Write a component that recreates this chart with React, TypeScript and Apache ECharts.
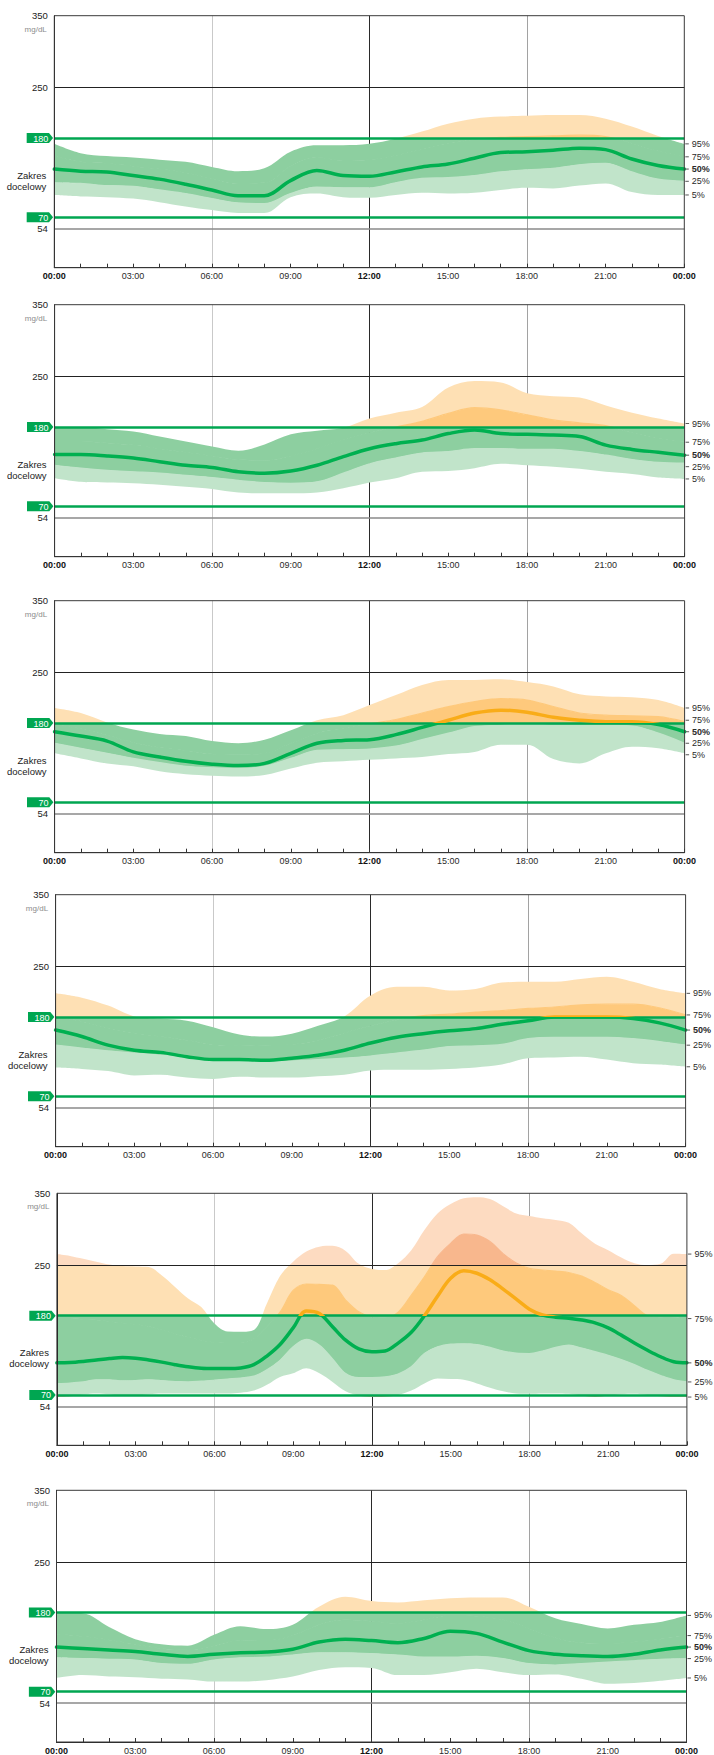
import React, { useEffect, useRef } from "react";
import * as echarts from "echarts";

// ---------- time bases ----------
const HOURS = [0, 1, 2, 3, 4, 5, 6, 7, 8, 9, 10, 11, 12, 13, 14, 15, 16, 17, 18, 19, 20, 21, 22, 23, 24];
const HALF_HOURS = [0, 0.5, 1, 1.5, 2, 2.5, 3, 3.5, 4, 4.5, 5, 5.5, 6, 6.5, 7, 7.5, 8, 8.5, 9, 9.5, 10, 10.5, 11, 11.5, 12, 12.5, 13, 13.5, 14, 14.5, 15, 15.5, 16, 16.5, 17, 17.5, 18, 18.5, 19, 19.5, 20, 20.5, 21, 21.5, 22, 22.5, 23, 23.5, 24];

// ---------- tick labels ----------
const X_LABEL_HOURS = [0, 3, 6, 9, 12, 15, 18, 21, 24];
const X_LABELS = ["00:00", "03:00", "06:00", "09:00", "12:00", "15:00", "18:00", "21:00", "00:00"];
const BOLD_HOURS = [0, 12, 24];
const Y_LABEL_VALUES = [54, 250, 350];
const Y_UNIT = "mg/dL";
const TARGET_LINES = [180, 70];
const TARGET_LABEL = "Zakres\ndocelowy";
const PERCENT_LABELS = ["95%", "75%", "50%", "25%", "5%"];
const V_LINES = [6, 12, 18];

// ---------- panel 1 ----------
const P1_P95 = [172, 159, 155, 153, 150, 147, 140, 134, 138, 161, 170, 170, 172, 179, 189, 200, 207, 210, 211, 212, 212, 207, 196, 183, 172];
const P1_P75 = [155, 147, 145, 141, 137, 132, 124, 117, 118, 141, 153, 149, 150, 156, 164, 172, 178, 181, 182, 183, 184, 182, 173, 162, 154];
const P1_P50 = [137, 134, 133, 128, 123, 116, 108, 100, 100, 121, 135, 128, 127, 133, 140, 144, 152, 160, 161, 163, 166, 164, 151, 142, 137];
const P1_P25 = [118, 117, 114, 113, 108, 103, 96, 90, 89, 103, 112, 111, 111, 118, 124, 125, 128, 133, 136, 138, 143, 145, 133, 123, 120];
const P1_P5 = [101, 99, 98, 96, 91, 85, 80, 76, 76, 98, 103, 98, 97, 101, 104, 103, 104, 108, 111, 110, 114, 117, 105, 101, 101];

// ---------- panel 2 ----------
const P2_P95 = [180, 180, 177, 174, 167, 160, 153, 147, 156, 170, 175, 179, 192, 200, 208, 235, 244, 242, 227, 223, 221, 210, 200, 192, 185];
const P2_P75 = [160, 160, 158, 155, 150, 145, 140, 135, 134, 140, 150, 162, 172, 180, 188, 199, 207, 204, 197, 190, 186, 182, 172, 164, 159];
const P2_P50 = [142, 142, 140, 137, 132, 127, 124, 118, 116, 119, 127, 139, 150, 157, 162, 171, 176, 171, 170, 169, 167, 155, 149, 145, 141];
const P2_P25 = [127, 123, 120, 118, 116, 113, 110, 106, 103, 102, 104, 116, 129, 137, 144, 146, 150, 150, 149, 149, 146, 141, 135, 131, 130];
const P2_P5 = [109, 104, 103, 102, 100, 97, 94, 89, 88, 88, 89, 95, 103, 109, 118, 119, 123, 129, 127, 125, 122, 118, 115, 110, 108];

// ---------- panel 3 ----------
const P3_P95 = [201, 194, 181, 171, 165, 162, 155, 152, 157, 170, 184, 191, 205, 219, 233, 240, 240, 241, 237, 231, 220, 217, 216, 212, 201];
const P3_P75 = [178, 172, 163, 153, 146, 142, 137, 136, 138, 152, 166, 172, 179, 185, 194, 203, 210, 214, 212, 203, 194, 191, 190, 189, 182];
const P3_P50 = [168, 162, 155, 140, 133, 127, 123, 121, 124, 138, 152, 156, 157, 164, 174, 184, 194, 198, 195, 188, 184, 182, 182, 178, 168];
const P3_P25 = [152, 145, 138, 131, 125, 120, 118, 117, 120, 131, 142, 143, 144, 148, 157, 166, 175, 177, 179, 177, 177, 177, 176, 166, 152];
const P3_P5 = [138, 131, 124, 120, 113, 109, 107, 106, 108, 117, 125, 127, 129, 131, 133, 137, 140, 150, 150, 130, 124, 138, 147, 145, 138];

// ---------- panel 4 ----------
const P4_P95 = [213, 207, 196, 181, 178, 175, 166, 156, 153, 157, 168, 181, 210, 222, 222, 217, 219, 228, 229, 229, 233, 236, 229, 219, 213];
const P4_P75 = [180, 174, 165, 158, 153, 148, 142, 140, 141, 142, 148, 158, 168, 176, 182, 184, 187, 189, 192, 194, 197, 198, 198, 193, 183];
const P4_P50 = [162, 153, 141, 134, 131, 125, 121, 121, 120, 123, 127, 134, 144, 152, 157, 161, 164, 170, 175, 180, 180, 180, 178, 172, 162];
const P4_P25 = [141, 137, 133, 130, 127, 124, 120, 119, 118, 119, 121, 123, 126, 130, 134, 139, 140, 142, 150, 152, 152, 152, 150, 146, 141];
const P4_P5 = [110, 108, 105, 99, 100, 96, 94, 97, 96, 96, 98, 100, 106, 107, 107, 108, 110, 114, 123, 124, 125, 121, 116, 114, 111];

// ---------- panel 5 (half-hourly) ----------
const P5_P95 = [265.6, 263, 259, 255, 251, 249, 248.5, 247.5, 236, 220, 204, 192, 169, 158, 157.6, 160, 197, 235, 255, 269, 275.8, 277, 270, 252, 245, 243.5, 253, 271, 299, 322, 335, 343, 344.5, 342, 332, 322, 318.5, 315.5, 313, 309, 294, 280, 271, 261, 253, 250.3, 252, 266, 265.6];
const P5_P75 = [176, 176, 175, 174, 172, 170, 168, 165, 160, 155, 150, 146, 143, 142, 142, 148, 165, 185, 215, 224, 223.5, 222.5, 201.7, 185.4, 178, 177, 185, 208.6, 234, 262, 280.5, 293.5, 292, 283, 266, 253, 245.7, 243.5, 242, 240, 235, 226, 216, 208, 194, 180, 178, 177, 176];
const P5_P50 = [114.5, 115, 116.5, 118.5, 120.5, 122, 121, 118.5, 115.5, 112, 109, 107, 106.6, 106.6, 107.5, 112, 124, 140, 163, 186.5, 183, 164.6, 146, 134, 130, 131, 142, 157, 180, 207, 232, 242.5, 239, 230, 217, 203, 189, 181, 178, 176.5, 174, 170, 163, 153, 142, 132, 123, 116, 114.5];
const P5_P25 = [85.8, 86.5, 88, 91, 91, 89.5, 90, 91, 90, 88.5, 88, 89, 90.4, 92, 93.5, 96, 105, 118, 136.8, 147, 139, 120, 99.7, 94, 94, 95, 99, 109, 127.5, 136.8, 140.5, 141, 140, 136, 131, 128, 127.5, 131, 136, 139, 135, 130, 125, 119, 112, 104, 97, 91, 88];
const P5_P5 = [67, 68, 70.5, 72, 71, 68.5, 69, 71, 72, 72, 72, 72, 72, 72, 73, 76, 84, 95, 100, 107, 100, 88, 75, 69, 67, 67.5, 70, 76, 86, 92.7, 92, 91, 86, 80, 75, 72, 71.5, 72, 72, 71.5, 69, 67, 69, 71, 71.5, 70, 68, 67, 67];

// ---------- panel 6 ----------
const P6_P95 = [180, 179, 160, 143, 136, 134, 149, 161, 157, 163, 188, 202, 196, 194, 197, 200, 201, 201, 188, 172, 164, 158, 163, 167, 176];
const P6_P75 = [150, 147, 142, 136, 130, 128, 134, 142, 141, 148, 163, 170, 168, 165, 170, 176, 175, 170, 158, 145, 138, 137, 139, 143, 148];
const P6_P50 = [132, 130, 128, 126, 122, 119, 122, 124, 125, 129, 139, 143, 141, 138, 144, 154, 151, 139, 127, 122, 120, 119, 122, 128, 132];
const P6_P25 = [117, 116, 115, 114, 109, 108, 114, 117, 118, 121, 124, 124, 123, 121, 118, 118, 119, 116, 109, 107, 109, 111, 113, 115, 116];
const P6_P5 = [89, 93, 91, 90, 88, 87, 84, 84, 86, 91, 100, 104, 103, 93, 93, 97, 102, 97, 93, 94, 88, 81, 82, 85, 89];

const PANELS = [
  { time: HOURS, p5: P1_P5, p25: P1_P25, p50: P1_P50, p75: P1_P75, p95: P1_P95 },
  { time: HOURS, p5: P2_P5, p25: P2_P25, p50: P2_P50, p75: P2_P75, p95: P2_P95 },
  { time: HOURS, p5: P3_P5, p25: P3_P25, p50: P3_P50, p75: P3_P75, p95: P3_P95 },
  { time: HOURS, p5: P4_P5, p25: P4_P25, p50: P4_P50, p75: P4_P75, p95: P4_P95 },
  { time: HALF_HOURS, p5: P5_P5, p25: P5_P25, p50: P5_P50, p75: P5_P75, p95: P5_P95 },
  { time: HOURS, p5: P6_P5, p25: P6_P25, p50: P6_P50, p75: P6_P75, p95: P6_P95 },
];

// ---------- layout & style ----------
const GRID_TOPS = [15.7, 304.7, 600.7, 894.7, 1193.3, 1490.3];
const GRID_LEFTS = [54.3, 54.6, 54.6, 55.6, 56.9, 56.5];
const GRID_W = 630;
const GRID_H = 252;
const FONT = "'Liberation Sans', Arial, sans-serif";
const SMOOTH = 0.35;

const V_LINE_COLORS = ["#c9c9c9", "#2a2a2a", "#a2a2a2"];
// zone colours: [>250, 180-250, 70-180, <70]
const LIGHT_ZONES = ["#fddbc1", "#fee0b4", "#c1e4ca", "#f8a58d"];
const MED_ZONES = ["#f8b78d", "#fec97c", "#8dcfa0", "#f3876a"];
const UPPER_ZONES = ["#fddbc1", "#fee0b4", "#8dcfa0", "#f8a58d"];
const MEDIAN_ZONES = ["#f27a2a", "#f9ac18", "#00b050", "#e5352b"];
const TARGET_COLOR = "#00a651";

type PanelPx = {
  yTop: number; yBot: number; y250: number; y180: number; y70: number;
  xL: number; xR: number; yOf: (v: number) => number;
};

function zoneFill(s: PanelPx | null, zones: string[]): any {
  if (!s) return zones[2];
  const h = s.yBot - s.yTop;
  const o250 = (s.y250 - s.yTop) / h;
  const o180 = (s.y180 - s.yTop) / h;
  const o70 = (s.y70 - s.yTop) / h;
  return {
    type: "linear", x: 0, y: s.yTop, x2: 0, y2: s.yBot, global: true,
    colorStops: [
      { offset: 0, color: zones[0] }, { offset: o250, color: zones[0] },
      { offset: o250, color: zones[1] }, { offset: o180, color: zones[1] },
      { offset: o180, color: zones[2] }, { offset: o70, color: zones[2] },
      { offset: o70, color: zones[3] }, { offset: 1, color: zones[3] },
    ],
  };
}

function buildOption(px: PanelPx[] | null): any {
  const grid = PANELS.map((_, i) => ({ left: GRID_LEFTS[i], top: GRID_TOPS[i], width: GRID_W, height: GRID_H }));
  const xAxis = PANELS.map((p, i) => ({
    type: "category", gridIndex: i, data: p.time.map(String), boundaryGap: false, z: 10,
    axisLine: { show: true, lineStyle: { color: "#222", width: 1 } },
    axisTick: {
      show: true, inside: true, length: 4,
      interval: (idx: number) => p.time[idx] % 1 === 0,
      lineStyle: { color: "#333", width: 1 },
    },
    axisLabel: {
      show: true, margin: 4, fontSize: 9, color: "#2a2a2a", fontFamily: FONT,
      interval: (idx: number) => X_LABEL_HOURS.indexOf(p.time[idx]) >= 0,
      formatter: (val: string) => {
        const h = Number(val);
        const k = X_LABEL_HOURS.indexOf(h);
        if (k < 0) return "";
        return BOLD_HOURS.indexOf(h) >= 0 ? `{b|${X_LABELS[k]}}` : X_LABELS[k];
      },
      rich: { b: { fontWeight: "bold", fontSize: 9, color: "#111", fontFamily: FONT } },
    },
    splitLine: { show: false },
  }));
  const yAxis = PANELS.map((_, i) => ({
    type: "value", gridIndex: i, min: 0, max: 350, z: 10,
    axisLine: { show: true, lineStyle: { color: "#222", width: 1 } },
    axisTick: { show: false }, axisLabel: { show: false }, splitLine: { show: false },
  }));

  const series: any[] = [];
  PANELS.forEach((p, i) => {
    const s = px ? px[i] : null;
    const stack = "st" + i;
    const common = {
      type: "line", xAxisIndex: i, yAxisIndex: i, smooth: SMOOTH, symbol: "none",
      showSymbol: false, silent: true, animation: false,
    };
    // helper: vertical reference lines below bands
    series.push({
      ...common, id: `g_${i}`, data: p.p5, lineStyle: { width: 0, opacity: 0 }, z: 1,
      markLine: {
        silent: true, symbol: "none", z: 1, animation: false, label: { show: false },
        data: V_LINES.map((h, k) => ({ xAxis: String(h), lineStyle: { color: V_LINE_COLORS[k], width: 1, type: "solid" } })),
      },
    });
    series.push({ ...common, id: `p5_${i}`, stack, data: p.p5, lineStyle: { width: 0, opacity: 0 }, z: 2 });
    const lightFill = zoneFill(s, LIGHT_ZONES);
    const medFill = zoneFill(s, MED_ZONES);
    series.push({
      ...common, id: `b1_${i}`, stack, data: p.p25.map((v, k) => v - p.p5[k]), z: 2,
      lineStyle: { width: 1.2, color: lightFill }, areaStyle: { opacity: 1, color: lightFill },
    });
    series.push({
      ...common, id: `b2_${i}`, stack, data: p.p75.map((v, k) => v - p.p25[k]), z: 2,
      lineStyle: { width: 1.2, color: medFill }, areaStyle: { opacity: 1, color: medFill },
    });
    series.push({
      ...common, id: `b3_${i}`, stack, data: p.p95.map((v, k) => v - p.p75[k]), z: 2,
      lineStyle: { width: 0, opacity: 0 }, areaStyle: { opacity: 1, color: zoneFill(s, UPPER_ZONES) },
    });
    series.push({
      ...common, id: `m_${i}`, data: p.p50, z: 4,
      lineStyle: { width: 3.5, color: zoneFill(s, MEDIAN_ZONES), cap: "round", join: "round" },
      markLine: {
        silent: true, symbol: "none", z: 3, animation: false, label: { show: false },
        data: [
          { yAxis: 250, lineStyle: { color: "#222", width: 1, type: "solid" } },
          { yAxis: 54, lineStyle: { color: "#8a8a8a", width: 1.5, type: "solid" } },
          ...TARGET_LINES.map((v) => ({ yAxis: v, lineStyle: { color: TARGET_COLOR, width: 2.6, type: "solid" } })),
        ],
      },
    });
  });

  const elements: any[] = [];
  if (px) {
    PANELS.forEach((p, i) => {
      const s = px[i];
      const last = p.time.length - 1;
      // frame
      elements.push({
        type: "rect", z: 30, silent: true,
        shape: { x: s.xL, y: s.yTop, width: s.xR - s.xL, height: s.yBot - s.yTop },
        style: { fill: "none", stroke: "#3a3a3a", lineWidth: 1 },
      });
      // y labels
      Y_LABEL_VALUES.forEach((v) => {
        elements.push({
          type: "text", z: 30, silent: true, x: s.xL - 6.5, y: s.yOf(v),
          style: { text: String(v), fill: "#222", fontSize: 9.5, fontFamily: FONT, align: "right", verticalAlign: "middle" },
        });
      });
      elements.push({
        type: "text", z: 30, silent: true, x: s.xL - 7.5, y: s.yOf(350) + 13.5,
        style: { text: Y_UNIT, fill: "#8c8c8c", fontSize: 8, fontFamily: FONT, align: "right", verticalAlign: "middle" },
      });
      // target tags
      TARGET_LINES.forEach((v) => {
        const y = s.yOf(v);
        const x0 = s.xL - 27.6;
        elements.push({
          type: "polygon", z: 30, silent: true,
          shape: { points: [[x0, y - 5], [s.xL - 5.3, y - 5], [s.xL - 1.2, y], [s.xL - 5.3, y + 5], [x0, y + 5]] },
          style: { fill: TARGET_COLOR },
        });
        elements.push({
          type: "text", z: 31, silent: true, x: s.xL - 6, y: y + 0.5,
          style: { text: String(v), fill: "#ffffff", fontSize: 9, fontFamily: FONT, align: "right", verticalAlign: "middle" },
        });
      });
      elements.push({
        type: "text", z: 30, silent: true, x: s.xL - 8, y: s.yOf(121),
        style: { text: TARGET_LABEL, fill: "#222", fontSize: 9.5, lineHeight: 11, fontFamily: FONT, align: "right", verticalAlign: "middle" },
      });
      // percentile labels at right
      const endVals = [p.p95[last], p.p75[last], p.p50[last], p.p25[last], p.p5[last]];
      const ys = endVals.map((v) => s.yOf(v));
      const GAP = 11.5;
      for (let k = 1; k >= 0; k--) if (ys[k] > ys[k + 1] - GAP) ys[k] = ys[k + 1] - GAP;
      for (let k = 3; k <= 4; k++) if (ys[k] < ys[k - 1] + GAP) ys[k] = ys[k - 1] + GAP;
      PERCENT_LABELS.forEach((lbl, k) => {
        elements.push({
          type: "line", z: 30, silent: true,
          shape: { x1: s.xR + 1, y1: ys[k], x2: s.xR + 4.5, y2: ys[k] },
          style: { stroke: "#555", lineWidth: 1 },
        });
        elements.push({
          type: "text", z: 30, silent: true, x: s.xR + 7.5, y: ys[k],
          style: {
            text: lbl, fill: "#2a2a2a", fontSize: 9, fontFamily: FONT,
            fontWeight: k === 2 ? "bold" : "normal", align: "left", verticalAlign: "middle",
          },
        });
      });
    });
  }

  return {
    animation: false,
    backgroundColor: "#ffffff",
    textStyle: { fontFamily: FONT },
    grid, xAxis, yAxis, series,
    graphic: { elements },
  };
}

export default function App() {
  const ref = useRef<HTMLDivElement>(null);
  useEffect(() => {
    if (!ref.current) return;
    const chart = echarts.init(ref.current, null, { renderer: "svg" });
    chart.setOption(buildOption(null));
    const conv = (i: number, idx: number, v: number) =>
      chart.convertToPixel({ xAxisIndex: i, yAxisIndex: i } as any, [idx, v]) as unknown as number[];
    const px: PanelPx[] = PANELS.map((p, i) => {
      const last = p.time.length - 1;
      const yOf = (v: number) => conv(i, 0, v)[1];
      return {
        yTop: yOf(350), yBot: yOf(0), y250: yOf(250), y180: yOf(180), y70: yOf(70),
        xL: conv(i, 0, 0)[0], xR: conv(i, last, 0)[0], yOf,
      };
    });
    chart.setOption(buildOption(px), { notMerge: true });
    return () => chart.dispose();
  }, []);
  return (
    <div
      ref={ref}
      style={{ position: "absolute", left: 0, top: 0, width: 714, height: 1755, background: "#fff" }}
    />
  );
}
